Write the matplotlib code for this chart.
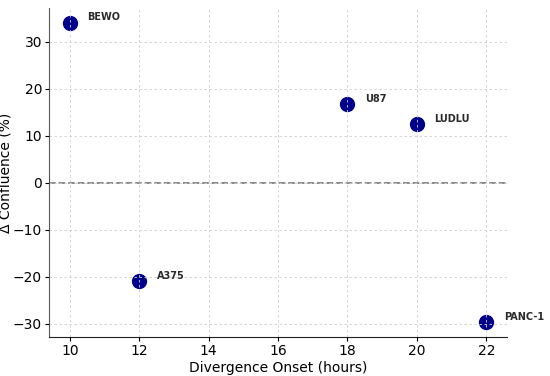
import matplotlib
matplotlib.use("Agg")
import matplotlib.pyplot as plt

cell_lines = ["BEWO", "A375", "U87", "LUDLU", "PANC-1"]
onset_hours = [10, 12, 18, 20, 22]
delta_confluence = [34.0, -21.0, 16.7, 12.4, -29.6]

fig, ax = plt.subplots(figsize=(5.5, 3.76), dpi=100)
ax.scatter(onset_hours, delta_confluence, s=100, color="darkblue", zorder=2)
for name, x, y in zip(cell_lines, onset_hours, delta_confluence):
    ax.text(x + 0.5, y + 0.5, name, fontsize=7, fontweight="bold", color="#2a2a2a")

ax.axhline(0, color="gray", linestyle="--", linewidth=1.3, zorder=1)
ax.grid(True, linestyle=(0, (3, 3)), color="#cfcfcf", linewidth=0.6, zorder=3)
ax.set_axisbelow(False)
ax.spines["top"].set_visible(False)
ax.spines["right"].set_visible(False)
ax.spines["left"].set_color("#555555")
ax.spines["bottom"].set_color("#222222")
ax.set_xticks([10, 12, 14, 16, 18, 20, 22])
ax.set_xlabel("Divergence Onset (hours)", fontsize=10, labelpad=2)
ax.set_ylabel("Δ Confluence (%)", fontsize=10, labelpad=0)
ax.tick_params(labelsize=10, length=3, pad=2)

fig.subplots_adjust(left=0.089, right=0.922, top=0.979, bottom=0.104)
fig.savefig("out.png", dpi=100)
